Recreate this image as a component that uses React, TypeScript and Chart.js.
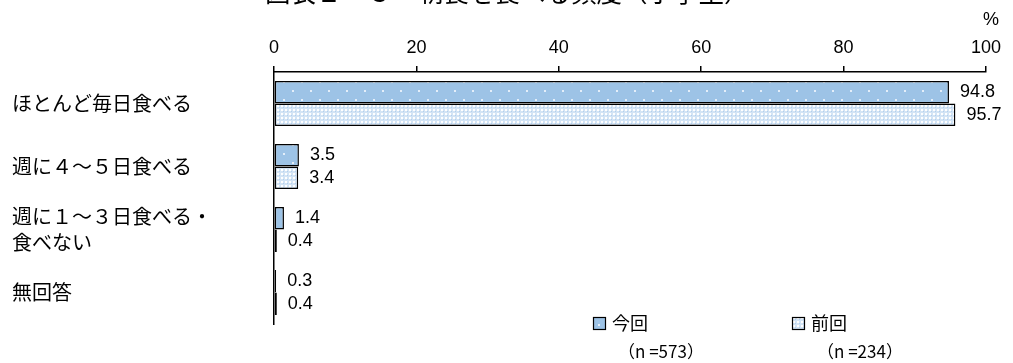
import React, { useEffect, useRef } from "react";
import { Chart, registerables } from "chart.js";

Chart.register(...registerables);

const title = "図表１－３　朝食を食べる頻度（小学生）";
const categories: (string | string[])[] = [
  "ほとんど毎日食べる",
  "週に４～５日食べる",
  ["週に１～３日食べる・", "食べない"],
  "無回答",
];
const seriesNames = ["今回", "前回"];
const sampleSizes = ["（n =573）", "（n =234）"];
const currentValues = [94.8, 3.5, 1.4, 0.3];
const previousValues = [95.7, 3.4, 0.4, 0.4];
const unitLabel = "%";

const JP = '"Noto Sans CJK JP", sans-serif';
const NUM = '"Liberation Sans", Arial, sans-serif';

function makeCurrentPattern(ctx: CanvasRenderingContext2D) {
  const c = document.createElement("canvas");
  c.width = 18;
  c.height = 18;
  const g = c.getContext("2d")!;
  g.fillStyle = "#9DC3E6";
  g.fillRect(0, 0, 18, 18);
  g.fillStyle = "#e4eef9";
  g.fillRect(4, 0, 2, 2);
  g.fillRect(13, 9, 2, 2);
  return ctx.createPattern(c, "repeat")!;
}

function makePreviousPattern(ctx: CanvasRenderingContext2D) {
  const c = document.createElement("canvas");
  c.width = 4;
  c.height = 4;
  const g = c.getContext("2d")!;
  g.fillStyle = "#d3e4f5";
  g.fillRect(0, 0, 4, 4);
  g.fillStyle = "#ffffff";
  g.fillRect(1, 1, 2, 2);
  g.fillStyle = "#b3cfec";
  g.fillRect(3, 3, 1, 1);
  return ctx.createPattern(c, "repeat")!;
}

export default function App() {
  const ref = useRef<HTMLCanvasElement>(null);

  useEffect(() => {
    const canvas = ref.current!;
    const ctx = canvas.getContext("2d")!;
    const pCur = makeCurrentPattern(ctx);
    const pPrev = makePreviousPattern(ctx);

    const extras = {
      id: "extras",
      afterDraw(chart: any) {
        const c = chart.ctx as CanvasRenderingContext2D;
        c.save();
        // title (cut at top)
        c.fillStyle = "#000";
        c.font = `25.5px ${JP}`;
        c.textAlign = "left";
        c.textBaseline = "ideographic";
        c.fillText(title, 265, 5);
        // unit
        c.font = `18px ${NUM}`;
        c.textAlign = "center";
        c.textBaseline = "middle";
        c.fillText(unitLabel, 991, 20);
        // data labels
        c.font = `18px ${NUM}`;
        c.textAlign = "left";
        chart.data.datasets.forEach((ds: any, di: number) => {
          const meta = chart.getDatasetMeta(di);
          meta.data.forEach((el: any, i: number) => {
            c.fillText(ds.data[i].toFixed(1), el.x + 11, el.y);
          });
        });
        // legend
        const items = [
          { x: 593, fill: pCur },
          { x: 792, fill: pPrev },
        ];
        items.forEach((it, i) => {
          c.fillStyle = it.fill as any;
          c.fillRect(it.x, 317, 12, 12);
          c.strokeStyle = "#000";
          c.lineWidth = 1.2;
          c.strokeRect(it.x + 0.5, 317.5, 12, 12);
          c.fillStyle = "#000";
          c.font = `18px ${JP}`;
          c.textAlign = "left";
          c.textBaseline = "middle";
          c.fillText(seriesNames[i], it.x + 19, 323);
          c.font = `17px ${JP}`;
          c.fillText(sampleSizes[i], it.x + 25, 352);
        });
        c.restore();
      },
    };

    const chart = new Chart(canvas, {
      type: "bar",
      data: {
        labels: categories as any,
        datasets: [
          {
            label: seriesNames[0],
            data: currentValues,
            backgroundColor: pCur as any,
            borderColor: "#000",
            borderWidth: 1.5,
            borderSkipped: false,
          },
          {
            label: seriesNames[1],
            data: previousValues,
            backgroundColor: pPrev as any,
            borderColor: "#000",
            borderWidth: 1.5,
            borderSkipped: false,
          },
        ],
      },
      options: {
        indexAxis: "y",
        responsive: false,
        animation: false,
        events: [],
        layout: { padding: { left: 12, right: 27, top: 0, bottom: 39 } },
        datasets: { bar: { barPercentage: 1, categoryPercentage: 45 / 63 } },
        plugins: {
          legend: { display: false },
          tooltip: { enabled: false },
          title: { display: false },
        },
        scales: {
          x: {
            position: "top",
            min: 0,
            max: 100,
            ticks: {
              stepSize: 20,
              color: "#000",
              font: { family: NUM, size: 18 },
              padding: 7,
            },
            grid: {
              drawOnChartArea: false,
              drawTicks: true,
              tickLength: 6,
              color: "#000",
              lineWidth: 1.5,
            },
            border: { display: true, color: "#000", width: 1.5 },
            afterFit(scale: any) {
              scale.height = 72;
            },
          },
          y: {
            ticks: {
              crossAlign: "far",
              color: "#000",
              font: { family: JP, size: 20, lineHeight: 1.3 },
            },
            grid: { display: false, drawTicks: false },
            border: { display: true, color: "#000", width: 1.5 },
            afterFit(scale: any) {
              scale.width = 262;
            },
          },
        },
      },
      plugins: [extras],
    });
    return () => chart.destroy();
  }, []);

  return (
    <div style={{ position: "fixed", left: 0, top: 0, width: 1013, height: 363 }}>
      <canvas ref={ref} width={1013} height={363} style={{ display: "block" }} />
    </div>
  );
}
